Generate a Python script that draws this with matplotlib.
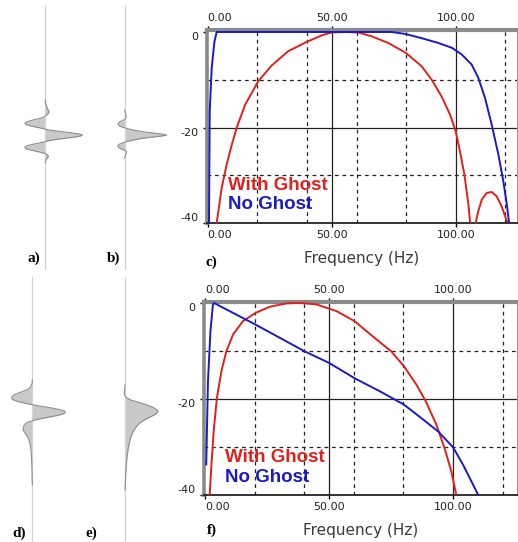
import numpy as np
import matplotlib
matplotlib.use("Agg")
import matplotlib.pyplot as plt

W, H = 518, 542

# ---- spectra (Hz, dB) ----
c_ghost_f = [3.6, 5.6, 7.6, 9.7, 11.7, 15.1, 20.4, 25.8, 32.5, 40.2, 46.0, 50.0, 55.4, 60.7,
             66.1, 72.8, 80.0, 86.3, 90.3, 94.3, 97.7, 100.0, 101.7, 103.5, 105.1, 105.8]
c_ghost_db = [-40, -32.7, -27.8, -23.6, -20, -15.2, -10.3, -7, -4, -2, -0.7, -0.1, 0, -0.1,
              -0.9, -2.3, -4.4, -7.2, -10, -13.5, -17.3, -20.8, -25, -29.9, -36.1, -40]
c_lobe_f = [108.0, 109.1, 110.5, 112.5, 114.5, 116.5, 118.5, 120.6]
c_lobe_db = [-40, -37.5, -35.1, -33.7, -33.5, -34.4, -36.5, -39.6]
c_noghost_f = [0.5, 0.8, 1.6, 2.7, 3.6, 40.0, 74.2, 79.6, 86.3, 93.0, 98.4, 102.4, 106.4,
               109.1, 111.8, 114.5, 117.2, 119.2, 120.6, 121.5]
c_noghost_db = [-40, -16.6, -7.5, -2, 0, 0, 0, -0.4, -1.3, -2.3, -3.3, -4.7, -6.8,
                -9.6, -13.8, -19.4, -25.7, -31.3, -36.1, -40]

f_ghost_f = [1.9, 2.6, 3.5, 4.8, 6.6, 8.6, 11.3, 15.3, 20.3, 26.1, 32.8, 38.2, 44.9, 53.0,
             60.3, 67.7, 75.1, 80.2, 85.2, 89.0, 93.3, 96.6, 99.3, 101.3]
f_ghost_db = [-40, -33.7, -26.8, -19.8, -14.3, -10.1, -6.6, -3.8, -2.1, -0.8, -0.1, 0, -0.3,
              -1.7, -3.8, -7, -10.1, -13.2, -17, -20.5, -25.4, -30.3, -35.1, -40]
f_noghost_f = [0.5, 1.2, 2.2, 3.2, 3.6, 20.3, 40.2, 50.0, 60.3, 70.4, 80.2, 87.9, 94.0,
               100.0, 104.0, 107.4, 110.1]
f_noghost_db = [-33.7, -16.3, -5.9, -0.3, 0, -4.5, -10.1, -12.5, -15.7, -18.4, -21.2,
                -24.3, -26.8, -30.1, -33.7, -37.2, -40]

# ---- wavelets (time sample, normalised amplitude) ----
a_t = [100, 104, 107, 110, 112, 113, 114, 115, 116, 117, 118, 119, 120, 121, 122, 123, 124,
       125, 126, 127, 128, 129, 130, 131, 132, 133, 134, 135, 136, 137, 138, 139, 140, 141,
       142, 143, 144, 145, 146, 147, 148, 149, 150, 151, 152, 153, 154, 155, 156, 157, 158,
       160, 163]
a_amp = [0, 0.01, 0.04, 0.08, 0.1, 0.09, 0.06, 0.03, 0, -0.04, -0.12, -0.22, -0.33, -0.43,
         -0.51, -0.55, -0.54, -0.48, -0.38, -0.26, -0.13, -0.02, 0.1, 0.3, 0.52, 0.74, 0.92,
         1.0, 0.95, 0.8, 0.6, 0.38, 0.2, 0.06, -0.04, -0.16, -0.3, -0.42, -0.51, -0.55, -0.55,
         -0.5, -0.4, -0.28, -0.16, -0.06, 0.02, 0.06, 0.08, 0.08, 0.05, 0.01, 0]
b_t = [110, 114, 117, 119, 120, 121, 122, 123, 124, 125, 126, 127, 128, 129, 130, 131, 132,
       133, 134, 135, 136, 137, 138, 139, 140, 141, 142, 143, 144, 145, 146, 147, 148, 149,
       150, 151, 152, 153, 155, 158]
b_amp = [0, 0.02, 0.03, 0.01, -0.03, -0.08, -0.12, -0.15, -0.16, -0.15, -0.12, -0.06, 0.02,
         0.1, 0.2, 0.33, 0.48, 0.68, 0.88, 1.0, 0.88, 0.68, 0.48, 0.33, 0.2, 0.1, 0.02, -0.06,
         -0.12, -0.15, -0.16, -0.15, -0.12, -0.07, -0.02, 0.02, 0.04, 0.04, 0.02, 0]
d_t = [110, 114, 117, 119, 121, 123, 125, 127, 128, 129, 130, 131, 132, 133, 134, 135, 136,
       137, 138, 139, 140, 141, 142, 143, 144, 145, 146, 147, 148, 149, 150, 151, 152, 153,
       155, 157, 159, 161, 163, 166, 170, 175, 180, 190, 200, 215]
d_amp = [0, -0.01, -0.05, -0.12, -0.25, -0.42, -0.56, -0.62, -0.63, -0.61, -0.56, -0.48,
         -0.37, -0.24, -0.1, 0.06, 0.22, 0.4, 0.58, 0.75, 0.88, 0.97, 1.0, 0.98, 0.92, 0.82,
         0.68, 0.52, 0.36, 0.21, 0.08, -0.03, -0.12, -0.18, -0.24, -0.27, -0.28, -0.26,
         -0.22, -0.16, -0.1, -0.06, -0.04, -0.02, -0.01, 0]
e_t = [115, 120, 124, 126, 128, 130, 132, 134, 136, 138, 140, 141, 142, 144, 146, 148, 150,
       153, 156, 160, 165, 170, 175, 180, 187, 195, 205, 220]
e_amp = [0, -0.01, -0.02, 0.0, 0.06, 0.18, 0.38, 0.58, 0.75, 0.88, 0.97, 1.0, 0.99, 0.93,
         0.82, 0.7, 0.58, 0.45, 0.36, 0.27, 0.2, 0.15, 0.12, 0.09, 0.06, 0.04, 0.02, 0]

RED = "#e0201c"
BLUE = "#1a1ac8"

fig = plt.figure(figsize=(W / 100, H / 100), dpi=100)


def px_axes(x0, y0, x1, y1):
    # axes from pixel box (top-left origin)
    return fig.add_axes([x0 / W, 1 - y1 / H, (x1 - x0) / W, (y1 - y0) / H])


def trace(y0, y1, t, amp, base, gain, start, end):
    ax = px_axes(0, y0, 190, y1)
    ax.patch.set_alpha(0)
    ax.axis("off")
    ax.set_xlim(-base / gain, (190 - base) / gain)
    ax.set_ylim(y1 - y0, 0)
    ax.plot([0, 0], [start, end], color="#d4d4d4", lw=0.9)
    ax.fill_betweenx(t, 0, amp, color="#c9c9c9", lw=0)
    ax.plot(amp, t, color="#8c8c8c", lw=0.8)


trace(0, 270, a_t, a_amp, 45.3, 37, 5, 270)
trace(0, 270, b_t, b_amp, 124.7, 42, 5, 270)
trace(270, 542, d_t, d_amp, 32.3, 33, 7, 272)
trace(270, 542, e_t, e_amp, 125, 33, 7, 272)


def spectrum(box, xlim, ylim, curves, leg_x, leg_y):
    ax = px_axes(*box)
    ax.set_xlim(*xlim)
    ax.set_ylim(*ylim)
    for x in [50, 100]:
        ax.axvline(x, color="#222222", lw=0.9, zorder=1)
    for x in [20, 40, 60, 80, 120]:
        ax.axvline(x, color="#222222", lw=0.9, ls=(0, (3, 3)), zorder=1)
    ax.axhline(-20, color="#222222", lw=0.9, zorder=1)
    for y in [-10, -30]:
        ax.axhline(y, color="#222222", lw=0.9, ls=(0, (3, 3)), zorder=1)
    for fx, db, col in curves:
        ax.plot(fx, db, color=col, lw=1.4, zorder=3)
    ax.spines["top"].set_color("#8a8a8a")
    ax.spines["top"].set_linewidth(3.0)
    ax.spines["left"].set_color("#8a8a8a")
    ax.spines["left"].set_linewidth(2.6)
    ax.spines["bottom"].set_color("#111111")
    ax.spines["bottom"].set_linewidth(1.2)
    ax.spines["right"].set_color("#999999")
    ax.spines["right"].set_linewidth(0.8)
    ax.set_xticks([0, 50, 100])
    ax.set_xticklabels(["0.00", "50.00", "100.00"])
    ax.tick_params(axis="x", top=True, labeltop=True, direction="out", length=3,
                   width=1, labelsize=8, labelcolor="#222222", pad=2)
    tk = ax.xaxis.get_major_ticks()[0]
    tk.label1.set_ha("left")
    tk.label2.set_ha("left")
    ax.set_yticks([0, -20, -40])
    ax.set_yticklabels(["0", "-20", "-40"])
    ax.tick_params(axis="y", direction="out", length=3, width=1, labelsize=8,
                   labelcolor="#222222", pad=3)
    yl = ax.get_yticklabels()
    yl[0].set_va("top")
    yl[1].set_va("top")
    yl[2].set_va("bottom")
    ax.set_xlabel("Frequency (Hz)", fontsize=11, color="#3a3a3a", labelpad=8)
    ax.text(leg_x, leg_y[0], "With Ghost", color=RED, fontsize=13.5, fontweight="bold",
            family="Liberation Sans", transform=ax.transAxes, va="center")
    ax.text(leg_x, leg_y[1], "No Ghost", color=BLUE, fontsize=13.5, fontweight="bold",
            family="Liberation Sans", transform=ax.transAxes, va="center")
    return ax


spectrum((207, 30, 517, 223), (-0.3, 124.7), (-40, 0.42),
         [(c_ghost_f, c_ghost_db, RED), (c_lobe_f, c_lobe_db, RED),
          (c_noghost_f, c_noghost_db, BLUE)],
         0.068, (0.195, 0.098))
spectrum((204, 301.5, 517, 494.7), (-0.4, 125.8), (-40, 0.3),
         [(f_ghost_f, f_ghost_db, RED), (f_noghost_f, f_noghost_db, BLUE)],
         0.066, (0.19, 0.09))

for lab, x, y in [("a)", 27, 258), ("b)", 107, 258), ("c)", 205, 262),
                  ("d)", 12, 533), ("e)", 86, 533), ("f)", 207, 530)]:
    fig.text(x / W, 1 - y / H, lab, fontsize=11, fontweight="bold",
             family="Liberation Serif", va="center", ha="left")

fig.savefig("out.png", dpi=100)
